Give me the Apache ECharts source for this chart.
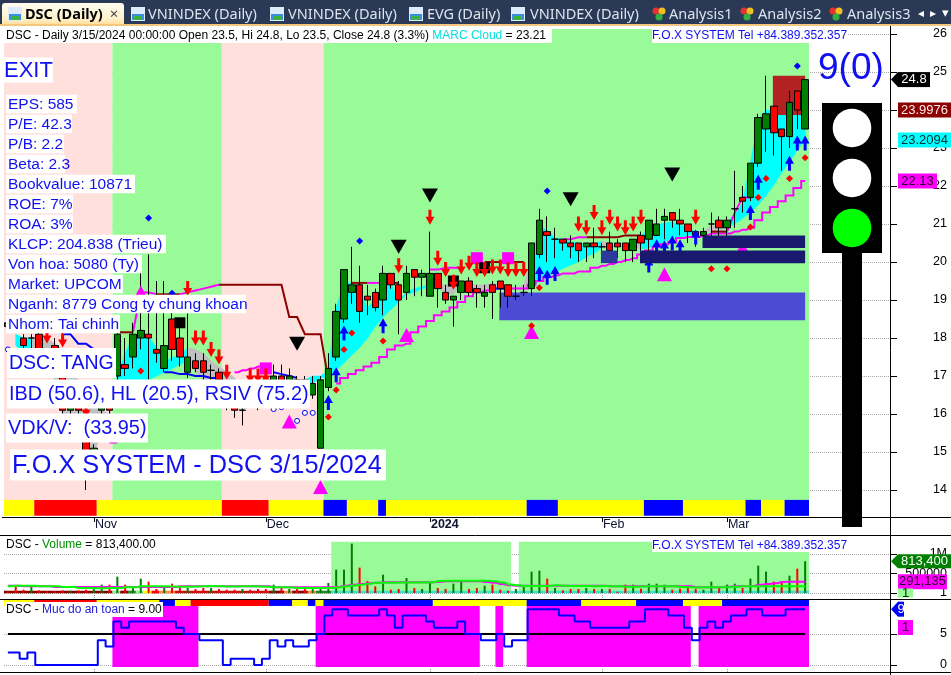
<!DOCTYPE html>
<html><head><meta charset="utf-8">
<style>html,body{margin:0;padding:0;background:#fff}#c{width:951px;height:675px}</style>
<script src="https://cdn.jsdelivr.net/npm/echarts@6/dist/echarts.min.js"></script>
</head><body><div id="c"></div>
<script>
const tradingDays=['10/17','10/18','10/19','10/20','10/23','10/24','10/25','10/26','10/27','10/30','10/31',
'11/1','11/2','11/3','11/6','11/7','11/8','11/9','11/10','11/13','11/14','11/15','11/16','11/17','11/20','11/21','11/22','11/23','11/24','11/27','11/28','11/29','11/30',
'12/1','12/4','12/5','12/6','12/7','12/8','12/11','12/12','12/13','12/14','12/15','12/18','12/19','12/20','12/21','12/22','12/25','12/26','12/27','12/28','12/29',
'1/2','1/3','1/4','1/5','1/8','1/9','1/10','1/11','1/12','1/15','1/16','1/17','1/18','1/19','1/22','1/23','1/24','1/25','1/26','1/29','1/30','1/31',
'2/1','2/2','2/5','2/6','2/7','2/15','2/16','2/19','2/20','2/21','2/22','2/23','2/26','2/27','2/28','2/29',
'3/1','3/4','3/5','3/6','3/7','3/8','3/11','3/12','3/13','3/14','3/15'];
const blankSlots=['','','','','','','','','','',''];
const monthLabels={'11/1':'Nov','12/1':'Dec','1/2':'2024','2/1':'Feb','3/1':'Mar'};
const priceTicks=[14,15,16,17,18,19,20,21,22,23,24,25,26];
const volumeTicks=[1,500000,1000000];
const safetyTicks=[0,5];
// [open, close, low, high]
const candles=[
[18.4,18.3,18.2,18.5],[18.3,18.2,18.2,18.4],[18,17.8,17.7,18.1],[18,18,17.7,18.1],[18.1,17.7,17.7,18.4],[17.6,17.5,17.4,17.7],[17.8,17.5,17.4,18],[17,16.1,16,17.1],[16.1,16.3,16,16.6],[16.5,16.1,15.9,16.7],
[15.3,14.8,14,15.4],[14.8,15.1,14.7,15.2],[16.1,16.2,15.9,16.4],[16.2,16.1,15.9,16.4],[17,18.1,16.9,18.2],[17.3,17.2,17,18],[17.5,18.1,17.2,18.4],[18,18.2,17.7,20],[18.1,18,16.9,20.2],[17.7,17.6,17.35,19.5],
[17.2,17.8,17.1,19.5],[18.5,17.7,17.4,19.2],[18,17.5,17.25,18.3],[17.1,17.5,16.95,18.65],[17.4,17.2,17.1,17.6],[17.4,17.1,16.9,17.6],[17.15,17.15,16.9,17.3],[17.1,16.9,16.7,17.2],[16.7,16.5,16.1,16.9],[16.4,16.1,15.9,16.6],
[16.1,16.1,15.7,16.4],[16.5,16.4,16.2,17],[16.6,16.5,16.1,17],[16.9,16.7,16.4,17.2],[16.7,17,16.4,17.3],[17,16.8,16.5,17.3],[16.8,17,16.5,17.2],[16.9,16.8,16.6,17],[16.9,16.8,16.6,17],[16.5,16.8,16.4,17],
[15.1,16.9,15.1,17],[16.7,17.2,16.6,17.6],[17.5,18.7,17.4,18.9],[18.5,19.8,18.4,19.8],[19.2,19.4,18.9,20.4],[19.4,18.7,18.4,19.9],[19.1,19,18.6,19.4],[19.2,18.8,18.7,19.3],[19,19.7,18.6,19.9],[19.7,19.4,19.3,19.7],
[19.4,19,18.1,19.5],[19.2,19.7,19,19.9],[19.8,19.6,19.1,19.8],[19.6,19.7,19.1,19.8],[19.1,19.7,19.1,20.8],[19.7,19.3,18.8,19.7],[19.2,19,18.9,19.4],[19,19.1,18.3,19.1],[19.2,19.5,19,19.5],[19.5,19.2,19.1,19.6],
[19.3,19.2,18.8,19.4],[19.1,19.2,18.8,19.4],[19.4,19.2,18.5,19.5],[19.5,19.3,18.8,19.5],[19.4,19.1,18.8,19.4],[19.1,19.1,19,19.4],[19.2,19.2,19.1,19.4],[19.3,20.5,19.1,20.5],[20.2,21.1,20.1,21.4],[20.8,20.7,20,21.2],
[20.6,20.6,20.1,20.9],[20.6,20.5,20.3,20.6],[20.5,20.4,20.1,20.7],[20.5,20.3,20,20.5],[20.4,20.5,20,20.5],[20.5,20.4,20.1,20.9],[20.4,20.4,20.2,20.5],[20.5,20.3,20.2,20.8],[20.5,20.4,20.1,20.6],[20.5,20.3,20,20.5],
[20.3,20.6,20,20.6],[20.7,20.5,20.3,20.8],[20.6,21.1,20.2,21.1],[20.7,21,20.7,21.4],[21.1,21.2,20.6,21.4],[21.3,21.1,20.9,21.3],[21.1,21,20.7,21.4],[21,20.8,20.5,21],[20.8,20.7,20.4,20.8],[20.7,20.8,20.5,20.9],
[21,21,20.6,21.3],[21.1,20.9,20.6,21.2],[20.9,21.1,20.6,21.2],[21.4,21.4,20.9,22.4],[21.7,21.6,21.3,22],[21.7,22.6,21.6,22.6],[22.6,23.8,22.5,23.9],[23.5,23.9,22.9,24.9],[24.1,23.4,22.8,24.1],[23.5,23.3,22.4,23.5],
[23.3,24.2,23,24.5],[24.5,24,23.5,24.5],[23.5,24.8,23.5,24.8]];
const volume=[43,154,85,154,68,43,43,68,60,68,85,103,214,214,419,214,154,368,291,103,154,239,154,128,103,128,128,103,85,85,103,85,103,103,214,154,103,103,103,154,137,256,598,598,1265,650,308,171,470,85,103,385,128,103,256,128,103,239,299,103,128,188,214,85,60,103,171,547,573,368,128,68,103,103,128,103,103,103,34,214,214,111,239,239,214,85,111,188,103,85,291,154,214,239,128,368,701,547,291,291,444,624,813.4];
const volSlow=[188,188,171,171,171,171,154,154,154,154,154,154,154,154,154,154,154,154,154,154,154,154,171,171,171,171,171,171,171,171,171,171,171,171,145,145,145,145,145,145,145,145,154,188,214,230,250,262,273,273,273,273,273,273,273,290,299,299,299,299,299,280,260,230,200,188,188,188,188,188,188,188,188,188,188,188,188,171,171,171,171,171,171,171,171,171,171,171,145,145,145,145,160,171,171,180,214,230,250,285,291,291,291.135];
const volFast=[171,188,188,188,171,171,171,154,154,130,125,120,120,125,130,145,145,171,171,171,171,165,160,160,165,171,180,171,165,165,171,171,165,160,150,145,140,130,130,130,125,130,140,165,190,210,240,262,262,265,268,268,272,272,275,305,316,316,316,316,316,316,300,270,220,200,180,180,180,180,200,188,180,180,180,171,180,171,171,160,160,165,171,171,175,171,154,145,140,145,145,145,150,160,170,170,170,175,175,175,175,175,175];
const safety=[2,2,1,2,0,0,0,0,0,0,0,0,4,3,7,6,7,7,7,7,7,7,6,5,5,4,4,4,0,1,1,1,0,1,4,3,4,3,3,4,5,8,9,9,8,8,8,8,9,8,6,8,8,8,7,6,6,6,7,5,5,4,4,5,3,4,4,9,9,9,9,8,8,7,7,6,6,6,6,6,7,7,9,9,9,8,8,6,4,6,7,6,7,8,8,9,9,8,8,8,9,9,9];
const safetyThreshold=[[0,5],[102,5]];
const lowerLine=[[[13,15.25],[14,15.25]],[[29,17.1],[30,17.15],[31,17.2],[32,17.25],[33,17.25]],
[[42,16.8],[43,16.95],[44,17.05],[45,17.15],[46,17.25],[47,17.35],[48,17.5],[49,17.7],[50,17.8],[51,17.85],[52,18.15],[53,18.3],[54,18.45],[55,18.6],[56,18.7],[57,18.8],[58,18.95],[59,19.1],[60,19.2],[61,19.25],[62,19.3],[63,19.3],[64,19.3],[65,19.3],[66,19.3],[67,19.4],[68,19.5],[69,19.6],[70,19.65],[71,19.7],[72,19.7],[73,19.75],[74,19.75],[75,19.85],[76,19.9],[77,19.95],[78,20],[79,20.05],[80,20.1],[81,20.2],[82,20.3],[83,20.4],[84,20.47],[85,20.53],[86,20.63],[87,20.66],[88,20.66],[89,20.7],[90,20.75],[91,20.75],[92,20.75],[93,20.8],[94,20.85],[95,20.9],[96,21.1],[97,21.3],[98,21.45],[99,21.6],[100,21.75],[101,21.95],[102,22.13]]];
const upperDark=[[[14,18.15],[15,18.15],[16,18.15]],[[19,19.15],[20,19.15],[21,19.15],[22,19.15]],
[[27,19.4],[28,19.4],[29,19.4],[30,19.4],[31,19.4],[32,19.4],[33,19.4],[34,19.4],[35,19.4],[36,18.55],[37,18.55],[38,18.1],[39,18.1],[40,18.1],[41,16.9]],
[[44,19.45],[45,19.45],[46,19.45]],[[48,19.45],[49,19.45],[50,19.45]],[[61,20],[62,20],[63,20],[64,20],[65,20],[66,20]],[[74,20.65],[75,20.65],[76,20.65],[77,20.65],[78,20.65],[79,20.7],[80,20.7],[81,20.7]],[[90,20.8],[91,20.8],[92,20.8]]];
const upperMagenta=[[[16,18.15],[17,19.2],[18,19.2],[19,19.15]],[[22,19.15],[23,19.2],[24,19.25],[25,19.3],[26,19.35],[27,19.4]],[[46,19.45],[47,19.45],[48,19.45]],[[54,19.8],[55,19.8],[56,19.85],[57,19.85],[58,19.85]],[[71,20.6],[72,20.6],[73,20.65],[74,20.65]],[[92,20.8],[93,21.3],[94,21.7],[95,21.7]]];
const blueLine=[[[7,18.1],[8,18.1],[9,17.85],[10,17.85],[11,17.7]],[[20,17.1],[21,17.1],[22,17.05],[23,17.05],[24,17],[25,17],[26,16.95],[27,16.95]],[[34,17.1],[35,17.05],[36,17],[37,16.95]],[[62,19.3],[63,19.3],[64,19.3]]];
const cloudTop=[null,18.1,18,18,18,18,17.85,17.7,17.2,16.9,16.4,16.2,16.1,16,17,17.6,18.03,18.03,18.03,17.75,17.35,17.5,17.5,17.75,17.7,17.6,17.4,17.25,17.1,16.95,16.5,16.25,null,null,null,null,null,null,16.9,17,17,17.15,18.8,19.45,19.45,19.25,18.8,19,19.45,19.45,19,19.2,19.3,19.35,19.4,19.4,19.4,19.4,19.45,19.4,19.4,19.4,19.45,19.4,19.35,19.33,19.4,20.13,20.92,20.85,20.63,20.6,20.53,20.5,20.47,20.47,20.55,20.5,20.42,20.42,20.42,20.66,20.92,20.97,21.03,21.05,20.97,20.9,20.8,20.8,20.97,20.9,21.05,21.25,21.55,22.6,23.75,24,23.98,23.98,23.98,23.98,23.98];
const cloudBottom=[null,17.8,17.6,17.5,17.4,17.2,16.9,16,15.9,15.5,15,14.9,15.6,15.9,16.8,16.9,16.9,16.9,16.9,17,17.1,17.2,17.3,17.4,17.1,16.9,16.7,16.5,16.3,16.1,16.1,16.2,null,null,null,null,null,null,16.85,16.8,16.95,16.95,17.15,17.35,17.55,17.75,18,18.3,18.55,18.75,18.95,19.15,19.2,19.3,19.35,19.35,19.13,19.15,19.4,19.38,19.3,19.15,19.3,19.35,19.33,19.3,19.25,19.35,19.5,19.6,19.73,19.83,19.92,20,20.13,20.23,20.37,20.4,20.4,20.4,20.4,20.34,20.37,20.45,20.53,20.63,20.66,20.7,20.76,20.78,20.8,20.8,20.9,21,21.15,21.3,21.5,21.75,22.03,22.35,22.63,22.95,23.21];
const cloudGraySpans=[[3,13],[23,31],[55,66],[76,80],[88,91]];
const backZones=[[63,102,18.47,19.2,'#4B4BD6'],[98,102,23.87,24.9,'#B22222']];
const frontZones=[[81,102,19.97,20.3,'#191970'],[89,102,20.37,20.7,'#191970'],[76,78,19.97,20.3,'#2B3A9A']];
const mainStrip=[[0,4,'#FFFF00'],[4,12,'#FF0000'],[12,28,'#FFFF00'],[28,34,'#FF0000'],[34,41,'#FFFF00'],[41,44,'#0000FF'],[44,48,'#FFFF00'],[48,49,'#0000FF'],[49,67,'#FFFF00'],[67,71,'#0000FF'],[71,82,'#FFFF00'],[82,87,'#0000FF'],[87,95,'#FFFF00'],[95,97,'#0000FF'],[97,100,'#FFFF00'],[100,103,'#0000FF']];
const safetyStrip=[[0,4,'#FFFF00'],[4,12,'#FF0000'],[12,20,'#FFFF00'],[20,22,'#0000FF'],[22,24,'#FFFF00'],[24,34,'#FF0000'],[34,37,'#0000FF'],[37,39,'#FFFF00'],[39,40,'#0000FF'],[40,41,'#FFFF00'],[41,55,'#0000FF'],[55,67,'#FFFF00'],[67,74,'#0000FF'],[74,81,'#FFFF00'],[81,87,'#0000FF'],[87,92,'#FFFF00'],[92,103,'#0000FF']];
const volumeRibbon=[[0,14,'#8B0000'],[14,15,'#90EE90'],[15,16,'#8B0000'],[16,17,'#228B22'],[17,18,'#90EE90'],[18,19,'#FFFF00'],[19,20,'#FF0000'],[20,22,'#FF8C40'],[22,34,'#C81010'],[34,36,'#8B0000'],[36,37,'#FF8C40'],[37,39,'#8B0000'],[39,40,'#FF8C40'],[40,42,'#228B22'],[42,103,'#40E0D0']];
const priceRegimes=[[0,14,'#FFE0DC'],[14,28,'#98FB98'],[28,41,'#FFE0DC'],[41,103,'#98FB98']];
const volumeRegimes=[[42,65,'#98FB98'],[66,103,'#98FB98']];
const safetyRegimes=[[14,25,'#FF00FF'],[40,61,'#FF00FF'],[63,64,'#FF00FF'],[67,88,'#FF00FF'],[89,103,'#FF00FF']];
const blackTriangles=[[37,17.85],[54,21.75],[50,20.4],[72,21.65],[85,22.3]];
const magentaTriangles=[[51,18.08],[67,18.16],[84,19.68],[94,20.37],[36,15.8],[40,14.08],[17,19.2]];
const downArrows=[[50,19.9],[54,21.18],[55,20.1],[56,19.8],[57,19.47],[58,19.87],[59,19.97],[60,19.8],[61,19.8],[62,19.87],[63,19.87],[64,19.8],[65,19.8],[66,19.8],[73,21],[74,20.9],[75,21.3],[76,20.9],[77,21.18],[78,21],[79,20.9],[80,21],[81,21.18],[88,21.18],[23,19.3],[24,18],[25,18],[26,17.7],[27,17.5],[28,17.1],[31,17],[32,17],[33,17],[7,17.95],[10,16.1],[5,18.05]];
const upArrows=[[41,16.3],[42,17.03],[43,18.13],[48,18.32],[68,19.7],[69,19.6],[70,19.7],[82,19.92],[83,20.4],[84,20.37],[85,20.5],[86,20.4],[88,20.66],[95,21.3],[96,22.1],[100,22.6],[101,23.13],[102,23.13]];
const redDiamonds=[[41,15.92],[42,16.63],[43,17.7],[44,18.13],[48,17.92],[67,18.32],[68,19.32],[90,19.82],[92,19.82],[95,20.92],[96,21.7],[97,22.2],[100,22.2],[102,22.74],[17,17.13]];
const blueDiamonds=[[45,20.55],[69,21.87],[101,25.16],[18,21.16],[21,19.18]];
const magentaSquares=[[60,20.1],[64,20.1],[33,17.2]];
const blackSquares=[[57,19.5],[61,19.85],[22,18.4]];
const hollowCircles=[[34,16.13],[35,16.18],[37,15.82],[38,16.03],[39,16.03],[0,17.7]];
const fundamentals=['EPS: 585','P/E: 42.3','P/B: 2.2','Beta: 2.3','Bookvalue: 10871','ROE: 7%','ROA: 3%','KLCP: 204.838 (Trieu)','Von hoa: 5080 (Ty)','Market: UPCOM','Nganh: 8779 Cong ty chung khoan','Nhom: Tai chinh'];
const tabs=[['VNINDEX (Daily)',131,148],['VNINDEX (Daily)',270,288],['EVG (Daily)',409,427],['VNINDEX (Daily)',511,530]];
const analysisTabs=[['Analysis1',652,669],['Analysis2',740,758],['Analysis3',829,847]];
const priceFlags=[[24.8,'24.8'],[23.9976,'23.9976'],[23.2094,'23.2094'],[22.13,'22.13']];
const volumeFlags=[[813400,'813,400'],[291135,'291,135'],[1,'1']];
const safetyFlags=[[9,'9'],[6.05,'1']];

const categories=tradingDays.concat(blankSlots);
const SANS='"Liberation Sans",Arial,sans-serif';
const BLUE='#1010F0';
const isTick=(i,v)=>monthLabels[v]!==undefined;

function bandSeries(name,segs,xi,lo,hi,z){
  return {type:'custom',name,xAxisIndex:xi,yAxisIndex:xi,z,silent:true,
    data:segs.map(s=>[s[0],lo,s[1],hi]),encode:{x:0,y:1},
    renderItem(p,api){const s=segs[p.dataIndex],bw=api.size([1,0])[0],a=api.coord([s[0],hi]),b=api.coord([s[1]-1,lo]);
      const x0=s[0]===0?a[0]-bw/2:a[0]-bw/2-1, x1=s[1]>=103?b[0]+bw/2:b[0]+bw/2-1;
      return {type:'rect',shape:{x:x0,y:a[1],width:x1-x0,height:b[1]-a[1]},style:{fill:s[2]}};}};
}
function zoneSeries(name,zones,z){
  return {type:'custom',name,z,silent:true,data:zones.map(s=>[s[0],s[2],s[1],s[3]]),encode:{x:0,y:1},
    renderItem(p,api){const s=zones[p.dataIndex],a=api.coord([s[0],s[3]]),b=api.coord([s[1],s[2]]);
      return {type:'rect',shape:{x:a[0]-1,y:a[1],width:b[0]-a[0]+1,height:b[1]-a[1]},style:{fill:s[4]}};}};
}
function isGray(i){return cloudGraySpans.some(s=>i>=s[0]&&i<=s[1]);}
const cloudSeries={type:'custom',name:'MARC Cloud',z:2,silent:true,
  data:cloudTop.map((t,i)=>[i,t===null?0:t,cloudBottom[i]===null?0:cloudBottom[i]]),encode:{x:0,y:1},
  renderItem(p,api){const i=p.dataIndex;
    if(i>=cloudTop.length-1||cloudTop[i]===null||cloudTop[i+1]===null)return null;
    const pts=[api.coord([i,cloudTop[i]]),api.coord([i+1,cloudTop[i+1]]),api.coord([i+1,cloudBottom[i+1]]),api.coord([i,cloudBottom[i]])];
    const col=isGray(i)?'#C0C0C0':'#00FFFF';
    return {type:'polygon',shape:{points:pts},style:{fill:col,stroke:col,lineWidth:0.6}};}};
function lineSegs(name,segs,color,z,step){
  return segs.map((d,k)=>({type:'line',name:name+k,data:d,symbol:'none',z,silent:true,step:step||false,lineStyle:{color,width:2,cap:'butt',join:'miter'}}));
}
function marks(name,data,symbol,size,color,z,extra){
  return Object.assign({type:'scatter',name,data,symbol,symbolSize:size,z,silent:true,itemStyle:{color,opacity:1}},extra||{});
}
const DOWN='path://M3,0 L6,0 L6,7 L9,7 L4.5,15 L0,7 L3,7 Z';
const UP='path://M4.5,0 L9,8 L6,8 L6,15 L3,15 L3,8 L0,8 Z';
function flagSeries(name,flags,xi,styles){
  return {type:'custom',name,xAxisIndex:xi,yAxisIndex:xi,z:50,silent:true,clip:false,
    data:flags.map((f,i)=>[i,f[0]]),encode:{x:0,y:1},
    renderItem(p,api){const f=flags[p.dataIndex],st=styles[p.dataIndex],y=api.coord([0,f[0]])[1],h=st.h/2;
      const ch=[];
      if(st.pointer)ch.push({type:'polygon',shape:{points:[[st.x-st.pointer,y],[st.x,y-h],[st.x,y+h]]},style:{fill:st.bg}});
      ch.push({type:'rect',shape:{x:st.x,y:y-h,width:st.w,height:st.h},style:{fill:st.bg}});
      ch.push({type:'text',style:{text:f[1],x:st.x+st.w/2,y:y,fill:st.fg,font:'13px '+SANS,align:'center',verticalAlign:'middle'}});
      return {type:'group',children:ch};}};
}
const volColor=(i)=>candles[i][1]>=candles[i][0]?'#008000':'#FF0000';
const baseYAxis=(i,min,max,ticks,fmt)=>({type:'value',gridIndex:i,position:'right',offset:-4,min,max,scale:false,
  axisLine:{show:false},
  axisTick:{show:true,length:6,customValues:ticks,lineStyle:{color:'#000'}},
  axisLabel:{show:true,customValues:ticks,align:'right',margin:56,color:'#000',fontFamily:SANS,fontSize:12.5,formatter:fmt||(v=>String(v))},
  splitLine:{show:true,lineStyle:{color:'#aaa',type:'dotted'}}});
const lowerX=i=>({type:'category',gridIndex:i,data:categories,boundaryGap:true,
  axisLine:{show:false,onZero:false},axisLabel:{show:false},
  axisTick:{show:true,alignWithLabel:true,interval:isTick,inside:true,length:3,lineStyle:{color:'#999',type:'dotted'}},splitLine:{show:false}});

const series=[
 bandSeries('priceRegime',priceRegimes,0,13.74,26.13,1),
 bandSeries('mainStrip',mainStrip,0,13.32,13.74,1),
 cloudSeries,
 zoneSeries('backZones',backZones,3),
 ...lineSegs('lower',lowerLine,'#FF00FF',4,'middle'),
 ...lineSegs('upperDark',upperDark,'#8B0000',4),
 ...lineSegs('upperMag',upperMagenta,'#FF00FF',4),
 ...lineSegs('blue',blueLine,'#0000FF',4),
 {type:'candlestick',name:'DSC',data:candles,z:5,barWidth:7,silent:true,
  itemStyle:{color:'#008000',color0:'#FF0000',borderColor:'#000',borderColor0:'#000',borderColorDoji:'#000',borderWidth:1}},
 marks('magentaSquares',magentaSquares,'rect',12,'#FF00FF',5),
 marks('blackSquares',blackSquares,'rect',11,'#000',6),
 marks('blackTriangles',blackTriangles,'triangle',[16,14],'#000',6,{symbolRotate:180}),
 marks('magentaTriangles',magentaTriangles,'triangle',[15,14],'#FF00FF',6),
 marks('downArrows',downArrows,DOWN,[9,15],'#FF0000',6),
 marks('upArrows',upArrows,UP,[9,15],'#0000FF',6),
 marks('redDiamonds',redDiamonds,'diamond',7,'#FF0000',6),
 marks('blueDiamonds',blueDiamonds,'diamond',7,'#0000FF',6),
 {type:'scatter',name:'hollow',data:hollowCircles,symbol:'circle',symbolSize:5,z:6,silent:true,itemStyle:{color:'#fff',borderColor:'#0000FF',borderWidth:1,opacity:1}},
 zoneSeries('frontZones',frontZones,7),

 bandSeries('volumeRegime',volumeRegimes,1,0,1310000,1),
 bandSeries('volumeRibbon',volumeRibbon,1,-9000,60000,2),
 {type:'bar',name:'Volume',xAxisIndex:1,yAxisIndex:1,z:3,barWidth:2,silent:true,
  data:volume.map((v,i)=>({value:v*1000,itemStyle:{color:volColor(i)}}))},
 {type:'line',name:'VolSlow',xAxisIndex:1,yAxisIndex:1,z:4,step:'middle',symbol:'none',silent:true,data:volSlow.map(v=>v*1000),lineStyle:{color:'#FF00FF',width:2}},
 {type:'line',name:'VolFast',xAxisIndex:1,yAxisIndex:1,z:4,step:'middle',symbol:'none',silent:true,data:volFast.map(v=>v*1000),lineStyle:{color:'#00FF00',width:2}},

 bandSeries('safetyRegime',safetyRegimes,2,-0.32,9.52,1),
 bandSeries('safetyStrip',safetyStrip,2,9.52,10.48,1),
 {type:'line',name:'threshold',xAxisIndex:2,yAxisIndex:2,z:3,symbol:'none',silent:true,data:safetyThreshold,lineStyle:{color:'#000',width:2}},
 {type:'line',name:'Muc do an toan',xAxisIndex:2,yAxisIndex:2,z:4,step:'middle',symbol:'none',silent:true,data:safety,lineStyle:{color:'#0000FF',width:2}},

 flagSeries('priceFlags',priceFlags,0,[
  {x:898,w:32,h:15,bg:'#000',fg:'#fff',pointer:7},{x:898,w:53,h:15,bg:'#8B0000',fg:'#FFE8E8'},{x:898,w:53,h:15,bg:'#00FFFF',fg:'#003030'},{x:898,w:39,h:15,bg:'#FF00FF',fg:'#300030'}]),
 flagSeries('volumeFlags',volumeFlags,1,[
  {x:898,w:53,h:14,bg:'#008000',fg:'#fff',pointer:7},{x:898,w:49,h:15,bg:'#FF00FF',fg:'#300030'},{x:898,w:15,h:9,bg:'#98FB98',fg:'#003000'}]),
 flagSeries('safetyFlags',safetyFlags,2,[
  {x:898,w:6,h:15,bg:'#0000FF',fg:'#fff',pointer:7},{x:898,w:15,h:15,bg:'#FF00FF',fg:'#300030'}])
];

// ---------- chrome and text overlays
const g=[];const Z=100;
const rect=(x,y,w,h,fill,z)=>g.push({type:'rect',shape:{x,y,width:w,height:h},style:{fill},z:z||Z,silent:true});
const text=(t,x,y,font,fill,extra)=>g.push({type:'text',style:Object.assign({text:t,x,y,font,fill,verticalAlign:'middle'},extra||{}),z:Z+1,silent:true});
const hline=(y,x0,x1)=>g.push({type:'line',shape:{x1:x0,y1:y,x2:x1,y2:y},style:{stroke:'#000',lineWidth:1},z:Z,silent:true});
const vline=(x,y0,y1,col)=>g.push({type:'line',shape:{x1:x,y1:y0,x2:x,y2:y1},style:{stroke:col||'#000',lineWidth:1},z:Z,silent:true});
// tab bar
rect(0,0,951,26,'#2A3A56');
g.push({type:'rect',shape:{x:2,y:3,width:122,height:23,r:[3,3,0,0]},z:Z,silent:true,style:{fill:{type:'linear',x:0,y:0,x2:0,y2:1,colorStops:[{offset:0,color:'#FFFDF0'},{offset:.7,color:'#FFF1C8'},{offset:1,color:'#FFD890'}]}}});
rect(0,24,951,2,'#F5C77E');
function chartIcon(x){rect(x,7,14,14,'#DDEBFA');rect(x+1,14,12,6,'#3C8FE0');rect(x+3,16,8,4,'#40B040');}
chartIcon(8);
text('DSC (Daily)',25,15,'bold 14.5px "Noto Sans"','#000');
text('×',114,15,'15px "Noto Sans"','#444',{align:'center'});
tabs.forEach(t=>{chartIcon(t[1]);text(t[0],t[2],15,'14.5px "Noto Sans"','#DDE3EE');});
analysisTabs.forEach(t=>{
  g.push({type:'circle',shape:{cx:t[1]+4,cy:11,r:3.5},style:{fill:'#E83030'},z:Z,silent:true});
  g.push({type:'circle',shape:{cx:t[1]+10,cy:11,r:3.5},style:{fill:'#F0C020'},z:Z,silent:true});
  g.push({type:'circle',shape:{cx:t[1]+7,cy:17,r:3.5},style:{fill:'#30B040'},z:Z,silent:true});
  text(t[0],t[2],15,'14.5px "Noto Sans"','#DDE3EE');});
text('◂',918,14,'12px "DejaVu Sans"','#fff');text('▸',930,14,'12px "DejaVu Sans"','#fff');text('▾',942,14,'13px "DejaVu Sans"','#fff');
// header line
rect(4,27,548,16,'#fff');
const cap=(x,y,parts)=>g.push({type:'text',z:Z+1,silent:true,style:{x,y,verticalAlign:'middle',font:'12px '+SANS,
  rich:{k:{fill:'#000',font:'12px '+SANS},c:{fill:parts[1],font:'12px '+SANS}},text:parts[0]}});
cap(6,35.5,['{k|DSC - Daily 3/15/2024 00:00:00 Open 23.5, Hi 24.8, Lo 23.5, Close 24.8 (3.3%) }{c|MARC Cloud}{k| = 23.21}','#00E0E0']);
rect(652,28,195,15,'#fff');
text('F.O.X SYSTEM Tel +84.389.352.357',652,36,'12px '+SANS,BLUE);
// left column
const box=(t,x,y,font,w,h,dy)=>{rect(x-2,y-h/2,w,h,'#fff');text(t,x,y+(dy||0),font,BLUE);};
box('EXIT',4,70,'22px '+SANS,51,25,1);
const boxW=[71,66,58,59,129,67,67,160,136,117,240,114];
fundamentals.forEach((t,i)=>box(t,8,104+i*20,'15.5px '+SANS,boxW[i],18.5,0.5));
box('DSC: TANG',9,363,'19.5px '+SANS,109,30,1);
box('IBD (50.6), HL (20.5), RSIV (75.2)',9,394,'19.9px '+SANS,303,29,1);
box('VDK/V:  (33.95)',8,428,'19.9px '+SANS,142,29,1);
box('F.O.X SYSTEM - DSC 3/15/2024',12,465,'25.3px '+SANS,376,31,1);
// signal count and traffic light
text('9(0)',818,69,'37px '+SANS,BLUE);
rect(822,103,60,150,'#000');rect(842,253,20,274,'#000');
[[128,'#fff'],[178,'#fff'],[228,'#00FF00']].forEach(c=>g.push({type:'circle',shape:{cx:852,cy:c[0],r:19.3},style:{fill:c[1]},z:Z+1,silent:true}));
// panel frames
hline(517.5,2,951);hline(535.5,0,951);hline(599.5,0,951);hline(672.5,0,951);
vline(890.5,26,675);
// volume panel captions
rect(5,537,155,15,'#fff');
cap(6,545,['{k|DSC - }{c|Volume}{k| = 813,400.00}','#009000']);
rect(652,538,195,14,'#fff');
text('F.O.X SYSTEM Tel +84.389.352.357',652,545.5,'12px '+SANS,BLUE);
// safety panel caption
rect(5,602,158,15,'#fff');
cap(6,609.5,['{k|DSC - }{c|Muc do an toan}{k| = 9.00}','#2020E0']);

const option={animation:false,backgroundColor:'#fff',tooltip:{show:false},
 grid:[{left:4,top:26,width:891,height:491},{left:4,top:536,width:891,height:62},{left:4,top:600,width:891,height:72}],
 xAxis:[{type:'category',gridIndex:0,data:categories,boundaryGap:true,
   axisLine:{show:false},
   axisTick:{show:true,alignWithLabel:true,interval:isTick,length:5,lineStyle:{color:'#000'}},
   axisLabel:{show:true,interval:isTick,align:'left',margin:1,padding:[0,0,0,1],color:'#101030',fontFamily:SANS,fontSize:12.5,hideOverlap:false,
     formatter:v=>monthLabels[v]==='2024'?'{b|2024}':(monthLabels[v]||''),rich:{b:{fontWeight:'bold',fontFamily:SANS,fontSize:12.5,color:'#101030'}}},
   splitLine:{show:false}},lowerX(1),lowerX(2)],
 yAxis:[baseYAxis(0,13.29,26.21,priceTicks),
   baseYAxis(1,-128000,1460000,volumeTicks,v=>v>=1000000?'1M':String(v)),
   baseYAxis(2,-1.13,10.48,safetyTicks)],
 series,graphic:{elements:g}};
echarts.init(document.getElementById('c'),null,{renderer:'canvas'}).setOption(option);
</script></body></html>
